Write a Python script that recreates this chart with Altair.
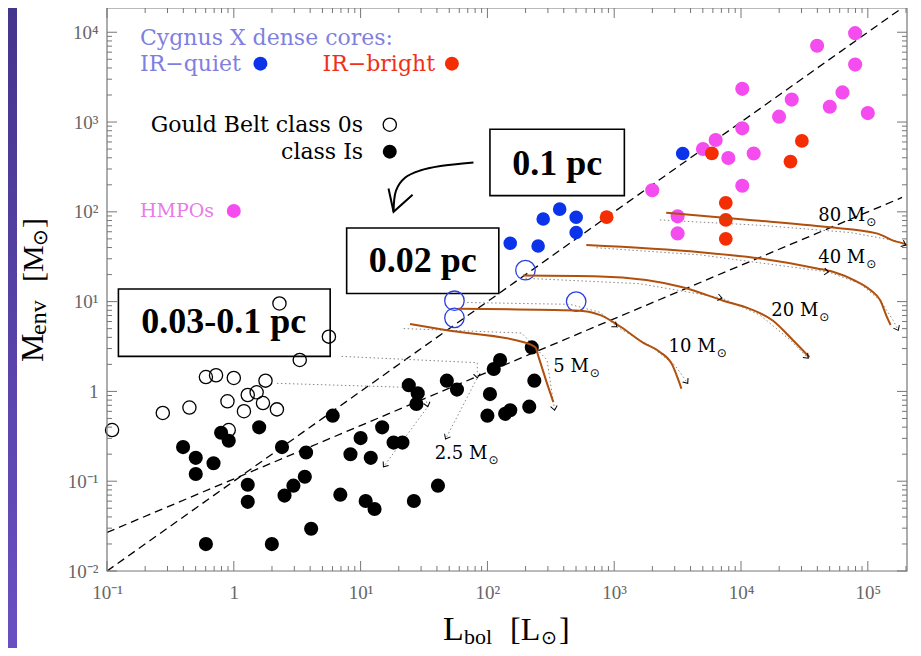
import altair as alt
import pandas as pd

# ---------------- values (log10 of L_bol [Lsun] and M_env [Msun]) ----------------
class0_logL = [0.36, 0.75, 0.52, -0.22, -0.14, 0.00, 0.25, 0.18, 0.11, -0.05, 0.23, -0.35, -0.56, 0.08, 0.34, -0.96, -0.04]
class0_logM = [0.98, 0.61, 0.35, 0.16, 0.18, 0.15, 0.12, -0.01, -0.04, -0.11, -0.13, -0.18, -0.24, -0.22, -0.20, -0.43, -0.43]

class1_logL = [-0.40, -0.30, -0.30, -0.16, -0.10, -0.04, 0.20, 0.38, 0.57, 0.78, 0.11, 0.11, 0.40, 0.47, 0.56,
               0.84, 0.61, -0.22, 0.30, 1.00, 0.92, 1.08, 1.17, 1.26, 1.33, 1.04, 1.11, 1.42, 1.61, 1.38,
               1.45, 1.44, 1.68, 1.76, 2.10, 2.05, 2.35, 2.37, 2.02, 2.00, 2.14, 2.18, 2.33]
class1_logM = [-0.62, -0.74, -0.92, -0.80, -0.46, -0.55, -0.40, -0.62, -0.68, -0.27, -1.04, -1.23, -1.16, -1.05, -0.95,
               -1.15, -1.53, -1.70, -1.70, -0.52, -0.70, -0.74, -0.40, -0.57, -0.57, -1.22, -1.31, -1.22, -1.05, 0.07,
               -0.02, -0.14, 0.12, 0.02, 0.35, 0.25, 0.49, 0.12, -0.03, -0.27, -0.25, -0.21, -0.17]

quiet_logL = [2.18, 2.40, 2.44, 2.57, 2.70, 2.70, 3.54]
quiet_logM = [1.65, 1.62, 1.92, 2.03, 1.94, 1.77, 2.65]
quiet_open_logL = [2.30, 1.74, 1.74, 2.70]
quiet_open_logM = [1.35, 1.01, 0.82, 1.00]

bright_logL = [2.94, 3.77, 4.48, 4.39, 3.88, 3.88, 3.88]
bright_logM = [1.94, 2.65, 2.79, 2.56, 2.10, 1.91, 1.70]

hmpo_logL = [4.90, 4.60, 4.90, 4.01, 4.40, 4.80, 4.70, 5.00, 4.30, 4.01, 3.80, 3.70, 3.90, 4.10, 4.01, 3.30, 3.50, 3.50]
hmpo_logM = [3.99, 3.85, 3.64, 3.37, 3.25, 3.33, 3.17, 3.10, 3.06, 2.93, 2.80, 2.70, 2.60, 2.65, 2.29, 2.24, 1.95, 1.76]

# dashed size relations
dash_names = ["a", "a", "b", "b"]
dash_logL = [-1.00, 5.31, -1.00, 5.27]
dash_logM = [-2.00, 4.31, -1.57, 2.16]

# evolutionary tracks (solid)
track_names = ["80", "40", "20", "10", "5"]
track_logL = [
    [3.41, 4.07, 4.68, 5.07, 5.20, 5.31, 5.41],
    [2.78, 3.68, 4.15, 4.60, 4.73, 4.89, 5.02, 5.10, 5.15, 5.18],
    [2.28, 2.89, 3.54, 3.86, 4.07, 4.25, 4.41, 4.54],
    [1.77, 2.70, 2.89, 3.05, 3.23, 3.36, 3.46, 3.50, 3.53],
    [1.39, 1.68, 2.28, 2.38, 2.40, 2.47, 2.52],
]
track_logM = [
    [1.99, 1.91, 1.83, 1.76, 1.68, 1.63, 1.52],
    [1.63, 1.55, 1.48, 1.37, 1.33, 1.24, 1.13, 1.01, 0.83, 0.74],
    [1.29, 1.28, 1.16, 1.01, 0.92, 0.79, 0.57, 0.38],
    [0.92, 0.90, 0.85, 0.72, 0.54, 0.44, 0.29, 0.15, 0.03],
    [0.75, 0.68, 0.55, 0.49, 0.40, 0.09, -0.12],
]
# dotted model tracks
dot_names = ["80", "40", "20", "10", "5", "2.5", "1"]
dot_logL = [
    [3.36, 4.15, 4.86, 5.21, 5.30],
    [2.86, 3.68, 4.69, 4.94, 5.10, 5.20, 5.24],
    [2.30, 3.20, 3.85, 4.15, 4.39, 4.53],
    [1.84, 2.65, 2.89, 3.02, 3.28, 3.48, 3.58],
    [1.34, 2.27, 2.47, 2.53],
    [0.85, 1.92, 1.92, 1.67],
    [0.34, 1.49, 1.53, 1.18],
]
dot_logM = [
    [1.91, 1.85, 1.77, 1.68, 1.63],
    [1.60, 1.52, 1.33, 1.20, 1.01, 0.79, 0.68],
    [1.26, 1.20, 1.04, 0.85, 0.57, 0.37],
    [0.99, 0.97, 0.88, 0.72, 0.51, 0.29, 0.09],
    [0.70, 0.65, 0.35, -0.21],
    [0.39, 0.32, 0.15, -0.53],
    [0.09, 0.04, -0.17, -0.84],
]
# arrow heads on dotted tracks
arrow_logL = [5.30, 4.69, 5.24, 3.85, 4.53, 3.02, 3.58, 2.53, 1.92, 1.67, 1.53, 1.18]
arrow_logM = [1.63, 1.33, 0.68, 1.04, 0.37, 0.72, 0.09, -0.21, 0.15, -0.53, -0.17, -0.84]
arrow_angle = [24, 7, 63, 10, 45, 39, 54, 80, 84, 118, 75, 126]

# mass labels (anchor = end of "M")
mass_text = ["80 M", "40 M", "20 M", "10 M", "5 M", "2.5 M"]
mass_logL = [4.98, 4.98, 4.61, 3.80, 2.80, 2.00]
mass_logM = [1.95, 1.49, 0.90, 0.49, 0.27, -0.70]

# boxed size labels
box_text = ["0.1 pc", "0.02 pc", "0.03-0.1 pc"]
box_logL1 = [2.02, 0.89, -0.91]
box_logL2 = [3.08, 2.09, 0.76]
box_logM1 = [2.18, 1.09, 0.39]
box_logM2 = [2.92, 1.82, 1.14]
boxlab_logL = [2.55, 1.49, -0.08]
boxlab_logM = [2.41, 1.33, 0.65]

# curved arrow
curve_logL = [1.89, 1.63, 1.47, 1.35, 1.28, 1.26]
curve_logM = [2.55, 2.51, 2.46, 2.38, 2.24, 2.00]
head_logL = [1.22, 1.26, 1.41]
head_logM = [2.26, 2.00, 2.19]

# in-plot legend
BLUE, RED, MAG, ORANGE = "#0b34ea", "#f52d05", "#f54cf0", "#b0500c"
LBLUE, LRED, LMAG = "#7f7fe0", "#f0301a", "#e87be8"
legL_text = ["Cygnus X dense cores:", "IR\u2212quiet", "IR\u2212bright", "HMPOs"]
legL_logL = [-0.74, -0.74, 0.70, -0.74]
legL_logM = [3.94, 3.65, 3.65, 2.01]
legL_color = [LBLUE, LBLUE, LRED, LMAG]
legL_size = [22, 22, 22, 19]
legR_text = ["Gould Belt class 0s", "class Is"]
legR_logL = [1.02, 1.02]
legR_logM = [2.97, 2.67]
legdot_logL = [0.21, 1.72, 1.23, 0.00]
legdot_logM = [3.65, 3.65, 2.67, 2.01]
legdot_color = [BLUE, RED, "black", MAG]
legopen_logL = [1.23]
legopen_logM = [2.97]

# ---------------- helpers ----------------
W, H = 800, 563
XMAX = 10 ** 5.309
YMAX = 10 ** 4.27
XS = alt.Scale(type="log", domain=[0.1, XMAX], nice=False)
YS = alt.Scale(type="log", domain=[0.01, YMAX], nice=False)
XAX = alt.Axis(values=[10.0 ** n for n in range(-1, 6)], ticks=False, domain=False, grid=False, title=None, zindex=2,
               labelFlush=False, labelOverlap=False,
               labelExpr="['10\u207b\u00b9','1','10\u00b9','10\u00b2','10\u00b3','10\u2074','10\u2075'][round(log(datum.value)/LN10)+1]",
               labelFont="Liberation Serif", labelFontSize=19, labelColor="#666", labelPadding=12)
YAX = alt.Axis(values=[10.0 ** n for n in range(-2, 5)], ticks=False, domain=False, grid=False, title=None, zindex=2,
               labelFlush=False, labelOverlap=False,
               labelExpr="['10\u207b\u00b2','10\u207b\u00b9','1','10\u00b9','10\u00b2','10\u00b3','10\u2074'][round(log(datum.value)/LN10)+2]",
               labelFont="Liberation Serif", labelFontSize=19, labelColor="#666", labelPadding=9)


def X(f="L", **kw):
    return alt.X(f + ":Q", scale=XS, axis=XAX, **kw)


def Y(f="M", **kw):
    return alt.Y(f + ":Q", scale=YS, axis=YAX, **kw)


def pts(lx, ly, **extra):
    d = pd.DataFrame({"L": [10 ** v for v in lx], "M": [10 ** v for v in ly]})
    for k, v in extra.items():
        d[k] = v
    return d


def lines(names, lxs, lys):
    rows = []
    for n, lx, ly in zip(names, lxs, lys):
        for i, (a, b) in enumerate(zip(lx, ly)):
            rows.append({"track": n, "i": i, "L": 10 ** a, "M": 10 ** b})
    return pd.DataFrame(rows)


dummy = alt.Data(values=[{"a": 1}])


def ptext(txt, px, py, size, angle=0, font="Liberation Serif"):
    return alt.Chart(dummy).mark_text(text=txt, font=font, fontSize=size, angle=angle, align="left",
                                      baseline="alphabetic", color="black").encode(x=alt.value(px), y=alt.value(py))


layers = []

# background
grad = alt.LinearGradient(gradient="linear", x1=0, y1=0, x2=0, y2=1,
                          stops=[alt.GradientStop(color="#45358c", offset=0), alt.GradientStop(color="#6a4fc2", offset=1)])
layers.append(alt.Chart(dummy).mark_rect(color=grad).encode(
    x=alt.value(-99), x2=alt.value(-90), y=alt.value(0), y2=alt.value(640)))
layers.append(alt.Chart(dummy).mark_rect(color="white").encode(
    x=alt.value(-90), x2=alt.value(806), y=alt.value(-10), y2=alt.value(650)))

# dashed relations
dash_df = pd.DataFrame({"track": dash_names, "L": [10 ** v for v in dash_logL], "M": [10 ** v for v in dash_logM],
                        "i": [0, 1, 0, 1]})
layers.append(alt.Chart(dash_df).mark_line(color="black", strokeWidth=1.3, strokeDash=[8, 5], clip=True).encode(
    x=X(), y=Y(), detail="track:N", order="i:Q"))

# dotted model tracks
layers.append(alt.Chart(lines(dot_names, dot_logL, dot_logM)).mark_line(
    color="#888", strokeWidth=1, strokeDash=[1.5, 2.5], clip=True).encode(x=X(), y=Y(), detail="track:N", order="i:Q"))

# boxes
box_df = pd.DataFrame({"L": [10 ** v for v in box_logL1], "L2": [10 ** v for v in box_logL2],
                       "M": [10 ** v for v in box_logM1], "M2": [10 ** v for v in box_logM2]})
layers.append(alt.Chart(box_df).mark_rect(fill="white", stroke="black", strokeWidth=1.6).encode(
    x=X(), x2="L2:Q", y=Y(), y2="M2:Q"))
layers.append(alt.Chart(pts(boxlab_logL, boxlab_logM, t=box_text)).mark_text(
    font="Liberation Serif", fontWeight="bold", fontSize=36, align="center", baseline="alphabetic", color="black").encode(
    x=X(), y=Y(), text="t:N"))

# curved arrow
layers.append(alt.Chart(pts(curve_logL, curve_logM, i=list(range(len(curve_logL))))).mark_line(
    color="black", strokeWidth=2, interpolate="catmull-rom").encode(x=X(), y=Y(), order="i:Q"))
layers.append(alt.Chart(pts(head_logL, head_logM, i=[0, 1, 2])).mark_line(
    color="black", strokeWidth=2).encode(x=X(), y=Y(), order="i:Q"))

# data points
layers.append(alt.Chart(pts(class0_logL, class0_logM)).mark_point(
    filled=False, color="black", strokeWidth=1.3, size=175, opacity=1).encode(x=X(), y=Y()))
layers.append(alt.Chart(pts(class1_logL, class1_logM)).mark_circle(
    color="black", size=200, opacity=1).encode(x=X(), y=Y()))
layers.append(alt.Chart(pts(quiet_open_logL, quiet_open_logM)).mark_point(
    filled=False, color="#2a3ee0", strokeWidth=1.3, size=380, opacity=1).encode(x=X(), y=Y()))
layers.append(alt.Chart(pts(hmpo_logL, hmpo_logM)).mark_circle(
    color=MAG, size=200, opacity=1).encode(x=X(), y=Y()))
layers.append(alt.Chart(pts(bright_logL, bright_logM)).mark_circle(
    color=RED, size=190, opacity=1).encode(x=X(), y=Y()))
layers.append(alt.Chart(pts(quiet_logL, quiet_logM)).mark_circle(
    color=BLUE, size=185, opacity=1).encode(x=X(), y=Y()))

# solid tracks
layers.append(alt.Chart(lines(track_names, track_logL, track_logM)).mark_line(
    color=ORANGE, strokeWidth=2, interpolate="monotone", clip=True).encode(x=X(), y=Y(), detail="track:N", order="i:Q"))

# arrow heads
layers.append(alt.Chart(pts(arrow_logL, arrow_logM, a=arrow_angle)).mark_point(
    shape="M -1 -0.8 L 0 0 L -1 0.8", filled=False, color="black", strokeWidth=1, size=70, opacity=1).encode(
    x=X(), y=Y(), angle=alt.Angle("a:Q", scale=None)))

# mass labels
mass_df = pts(mass_logL, mass_logM, t=mass_text)
layers.append(alt.Chart(mass_df).mark_text(font="DejaVu Serif", fontSize=18, align="right", baseline="middle",
                                           color="black").encode(x=X(), y=Y(), text="t:N"))
layers.append(alt.Chart(mass_df).mark_text(text="\u2299", font="DejaVu Sans", fontSize=12, align="left",
                                           baseline="middle", dx=1, dy=6, color="black").encode(x=X(), y=Y()))

# legend
layers.append(alt.Chart(pts(legL_logL, legL_logM, t=legL_text, c=legL_color, s=legL_size)).mark_text(
    font="DejaVu Serif", align="left", baseline="middle").encode(
    x=X(), y=Y(), text="t:N", color=alt.Color("c:N", scale=None), size=alt.Size("s:Q", scale=None)))
layers.append(alt.Chart(pts(legR_logL, legR_logM, t=legR_text)).mark_text(
    font="DejaVu Serif", fontSize=22, align="right", baseline="middle", color="black").encode(
    x=X(), y=Y(), text="t:N"))
layers.append(alt.Chart(pts(legdot_logL, legdot_logM, c=legdot_color)).mark_circle(size=195, opacity=1).encode(
    x=X(), y=Y(), color=alt.Color("c:N", scale=None)))
layers.append(alt.Chart(pts(legopen_logL, legopen_logM)).mark_point(
    filled=False, color="black", strokeWidth=1.3, size=175, opacity=1).encode(x=X(), y=Y()))

# inward ticks on all four sides
xmaj = [10.0 ** n for n in range(-1, 6)]
xmin = [k * 10.0 ** n for n in range(-1, 6) for k in range(2, 10) if k * 10.0 ** n <= XMAX]
ymaj = [10.0 ** n for n in range(-2, 5)]
ymin = [k * 10.0 ** n for n in range(-2, 5) for k in range(2, 10) if k * 10.0 ** n <= YMAX]
TC = "#777"
for vals, ln in ((xmaj, 10), (xmin, 5)):
    d = pd.DataFrame({"L": vals})
    layers.append(alt.Chart(d).mark_rule(color=TC, strokeWidth=1).encode(x=X(), y=alt.value(H), y2=alt.value(H - ln)))
    layers.append(alt.Chart(d).mark_rule(color=TC, strokeWidth=1).encode(x=X(), y=alt.value(0), y2=alt.value(ln)))
for vals, ln in ((ymaj, 10), (ymin, 5)):
    d = pd.DataFrame({"M": vals})
    layers.append(alt.Chart(d).mark_rule(color=TC, strokeWidth=1).encode(y=Y(), x=alt.value(0), x2=alt.value(ln)))
    layers.append(alt.Chart(d).mark_rule(color=TC, strokeWidth=1).encode(y=Y(), x=alt.value(W), x2=alt.value(W - ln)))

# frame
layers.append(alt.Chart(dummy).mark_rect(fillOpacity=0, stroke="#777", strokeWidth=1.2).encode(
    x=alt.value(0), x2=alt.value(W), y=alt.value(0), y2=alt.value(H)))

# axis titles
layers += [
    ptext("M", -64, 354, 32, 270),
    ptext("env", -61, 327, 24, 270),
    ptext("[M", -64, 274, 30, 270),
    ptext("\u2299", -60, 238, 20, 270, font="DejaVu Sans"),
    ptext("]", -64, 220, 30, 270),
    ptext("L", 336, 632, 34),
    ptext("bol", 357, 636, 22),
    ptext("[L", 403, 632, 32),
    ptext("\u2299", 434, 636, 19, font="DejaVu Sans"),
    ptext("]", 452, 632, 32),
]

chart = alt.layer(*layers).properties(
    width=W, height=H,
    autosize=alt.AutoSizeParams(type="none"),
    padding={"left": 99, "top": 0, "right": 6, "bottom": 77},
    background="#5641a6",
).configure_view(strokeWidth=0)

chart.save("out.html", embed_options={"renderer": "svg", "actions": False})
